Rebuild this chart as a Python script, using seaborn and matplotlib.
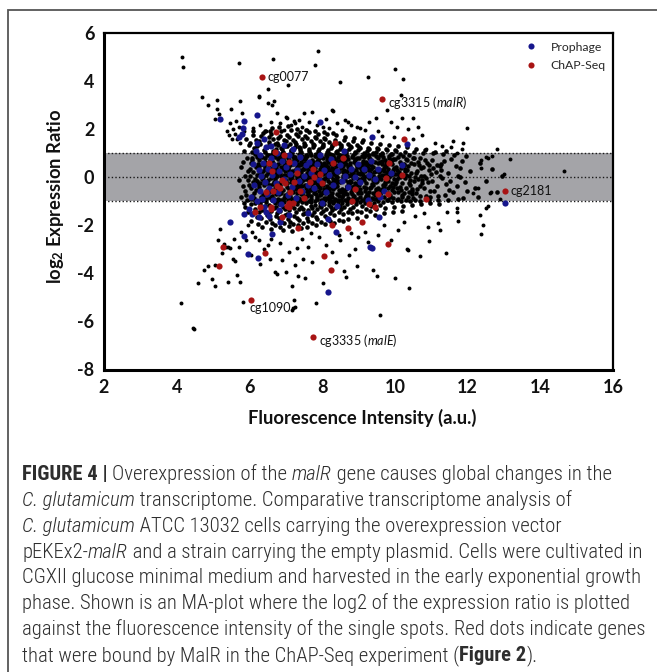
import matplotlib
matplotlib.use("Agg")
import matplotlib.pyplot as plt
import seaborn as sns
import pandas as pd
from matplotlib import font_manager
from matplotlib.lines import Line2D
from matplotlib.patches import Rectangle

# ---------------- data ----------------
x_ticks = [2, 4, 6, 8, 10, 12, 14, 16]
y_ticks = [-8, -6, -4, -2, 0, 2, 4, 6]
band_limits = [-1, 1]
guide_levels = [-1, 0, 1]

black_upper = [(4.14,5.03),(4.16,4.59),(5.71,4.75),(6.66,4.93),(7.89,5.28),(7.79,4.70),(8.49,3.99),(7.07,3.85),
 (6.52,3.68),(6.26,3.40),(6.27,3.35),(5.75,3.18),(5.48,2.84),(6.50,3.11),(6.67,3.20),(6.62,3.03),(6.75,2.70),
 (5.80,2.70),(7.0,2.50),(7.04,2.46),(7.50,2.67),(7.71,2.74),(8.26,2.81),(8.30,2.76),(7.23,2.35),(7.26,2.25),
 (7.58,1.97),(8.03,2.11),(8.63,2.39),(8.70,2.33),(8.95,2.11),(9.27,4.17),(10.0,4.5),(10.23,4.09),(10.17,3.43),
 (9.79,2.81),(9.47,2.46),(10.21,2.46),(10.51,2.46),(10.05,2.11),(10.64,2.11),(11.99,2.05),(9.18,1.97),(9.66,1.72),
 (9.98,1.67),(10.51,1.59),(10.87,1.17),(11.84,1.17),(11.88,1.42),(11.72,1.0),(12.56,0.8),(12.82,1.17),(12.52,0.86),
 (12.66,0.9),(13.17,0.75),(12.38,0.73),(14.66,0.28),(13.0,0.14),(12.38,0.38),(4.69,3.34),(4.87,3.02),(5.12,3.22),
 (5.10,2.85),(5.17,2.64),(5.05,2.42),(5.37,1.93),(5.45,1.77),(5.47,2.27),(5.56,2.0),(5.6,1.82),(5.66,1.6),(5.52,1.62),
 (5.74,1.45),(5.7,2.1),(5.85,1.95),(5.62,2.35),(6.1,2.05),(6.3,2.2),(6.45,1.95),(6.6,2.3),(6.85,2.25),(6.95,1.98),
 (7.15,2.2),(7.35,2.38),(7.45,2.1),(7.65,2.3),(7.85,2.2),(8.1,2.45),(8.2,2.05),(8.4,2.25),(8.55,1.98),(8.8,2.2),
 (9.05,2.05),(9.3,2.3),(9.55,1.95),(9.9,2.3),(10.35,2.0),(10.75,1.75),(11.1,1.45),(11.3,1.3),(11.55,1.25),(11.6,1.5)]

black_lower = [(12.62,-0.64),(12.16,-0.66),(12.29,-0.45),(11.70,-1.26),(11.72,-1.45),(12.34,-1.57),(12.52,-1.26),
 (12.43,-1.98),(12.38,-2.37),(11.40,-3.16),(11.19,-1.89),(11.43,-1.45),(10.95,-2.65),(10.69,-3.26),(10.40,-4.62),
 (10.0,-4.18),(9.59,-5.73),(9.5,-4.1),(9.39,-3.86),(10.37,-3.03),(12.88,-0.90),(12.65,-0.62),(12.57,-1.20),
 (11.73,-1.82),(11.23,-2.17),(10.92,-2.07),(10.34,-2.99),(9.26,-2.69),(9.18,-2.28),(8.90,-2.97),(8.95,-3.70),
 (8.38,-3.52),(8.26,-3.10),(5.83,-5.2),(7.16,-5.52),(7.20,-5.45),(7.25,-5.39),(7.23,-5.11),(7.82,-5.25),(7.16,-4.53),
 (7.53,-4.2),(7.33,-4.10),(8.03,-4.41),(8.66,-4.14),(6.75,-4.04),(6.70,-3.95),(5.42,-4.35),(5.74,-4.35),(5.65,-4.07),
 (7.0,-3.95),(7.25,-3.65),(7.73,-3.54),(7.46,-3.4),(6.56,-3.38),(6.39,-2.99),(6.04,-3.24),(5.55,-3.38),(5.35,-2.90),
 (5.46,-2.94),(5.58,-2.55),(4.12,-5.22),(4.46,-6.26),(4.48,-6.32),(4.59,-4.41),(4.76,-3.86),(4.85,-3.68),(4.96,-4.25),
 (5.06,-4.51),(5.13,-2.61),(5.19,-2.16),(5.31,-2.76),(5.25,-3.16),(5.42,-2.9),(5.05,-3.66),(5.78,-2.28),(5.95,-2.0),
 (6.07,-2.28),(5.6,-3.5),(5.7,-2.9),(5.9,-2.6),(6.25,-2.6),(6.5,-2.8),(6.85,-2.75),(6.3,-3.6),(6.9,-3.45),(7.1,-3.1),
 (7.45,-2.55),(7.6,-2.9),(7.9,-2.5),(8.1,-2.8),(8.5,-2.6),(8.75,-3.25),(9.0,-2.5),(9.55,-2.4),(9.7,-2.0),(10.1,-2.2),
 (10.25,-1.85),(10.55,-1.6),(10.8,-1.5),(8.6,-3.9),(8.8,-2.3),(7.7,-2.3),(6.6,-2.55),(6.15,-2.5),(7.3,-2.95),
 (8.45,-2.4),(9.9,-2.6)]

black_core_a = [(5.78,0.42),(5.81,-0.35),(5.84,1.12),(5.86,-1.05),(5.88,0.05),(5.91,-0.72),(5.93,0.81),(5.95,-1.46),
 (5.96,0.27),(5.97,-0.12),(5.99,1.34),(5.83,0.66),(5.87,-0.55),(5.92,-0.93),(5.98,-0.31),(5.89,-1.25),(5.72,-0.1),
 (5.76,-0.8),(5.9,1.6),
 (6.03,-0.91),(6.17,0.42),(6.09,-0.18),(6.22,0.87),(6.01,0.05),(6.13,-0.63),(6.24,-0.29),(6.06,0.71),(6.19,-0.97),
 (6.11,0.23),(6.04,-0.44),(6.15,0.96),(6.2,0.11),(6.08,-0.76),(6.23,0.55),(6.02,0.34),(6.14,-0.07),(6.18,-0.52),
 (6.07,0.83),(6.12,-0.85),(6.21,-0.16),(6.05,0.61),
 (6.02,1.42),(6.16,-1.33),(6.09,1.76),(6.21,-1.65),(6.05,-1.12),(6.13,1.21),(6.24,-1.94),(6.07,1.05),(6.19,1.58),
 (6.11,-1.48),(6.03,-1.8),(6.22,1.31),(6.15,-1.07),(6.1,1.93),
 (6.27,0.48),(6.41,-0.72),(6.33,0.13),(6.47,-0.25),(6.29,0.91),(6.38,-0.95),(6.44,0.66),(6.26,-0.41),(6.35,-0.06),
 (6.49,0.32),(6.31,-0.83),(6.42,0.79),(6.37,0.02),(6.28,-0.58),(6.46,-0.9),(6.34,0.57),(6.4,-0.33),(6.3,0.19),
 (6.48,0.95),(6.36,-0.67),(6.43,0.38),(6.26,0.74),(6.39,-0.14),(6.32,-0.99),(6.45,0.09),(6.29,-0.22),(6.41,0.5),
 (6.35,0.86),(6.47,-0.54),(6.38,0.27),
 (6.28,1.38),(6.44,-1.21),(6.33,1.72),(6.48,-1.56),(6.3,-1.09),(6.39,1.15),(6.46,-1.87),(6.26,1.51),(6.42,1.04),
 (6.35,-1.36),(6.49,1.27),(6.31,-1.71),(6.37,1.86),(6.45,-1.02),(6.27,-1.45),(6.4,1.62),(6.34,-2.06),(6.43,1.95)]

black_core_b = [(6.52,-0.12),(6.66,0.61),(6.58,-0.87),(6.73,0.24),(6.54,0.93),(6.69,-0.46),(6.61,0.07),(6.51,-0.64),
 (6.64,0.39),(6.74,-0.97),(6.56,0.72),(6.68,-0.19),(6.6,-0.56),(6.71,0.85),(6.53,0.3),(6.63,-0.78),(6.7,0.14),
 (6.57,-0.31),(6.72,-0.68),(6.55,0.5),(6.65,0.98),(6.59,-0.03),(6.67,-0.91),(6.51,0.18),(6.62,0.67),(6.74,0.42),
 (6.56,-0.49),(6.69,0.02),(6.54,-0.82),(6.66,-0.26),(6.6,0.8),(6.72,-0.39),(6.53,0.59),(6.64,-0.6),(6.58,0.35),
 (6.7,-0.08),(6.62,-0.95),(6.57,0.88),
 (6.53,1.47),(6.68,-1.29),(6.59,1.82),(6.72,-1.62),(6.55,-1.16),(6.64,1.12),(6.71,-1.98),(6.51,1.3),(6.66,1.61),
 (6.6,-1.41),(6.74,1.2),(6.57,-1.75),(6.63,2.05),(6.69,-1.07),(6.52,-1.53),(6.7,1.4),(6.58,-2.15),(6.65,1.03),
 (6.56,1.95),(6.73,-1.25),(6.62,-1.88),(6.54,1.68),
 (6.77,0.33),(6.91,-0.52),(6.83,0.81),(6.98,-0.16),(6.79,-0.89),(6.94,0.47),(6.86,0.04),(6.76,-0.37),(6.89,0.96),
 (6.99,-0.73),(6.81,0.21),(6.93,-0.05),(6.85,-0.62),(6.96,0.69),(6.78,0.55),(6.88,-0.94),(6.95,0.12),(6.82,-0.28),
 (6.97,-0.81),(6.8,0.88),(6.9,0.37),(6.84,-0.45),(6.92,-0.99),(6.76,0.08),(6.87,0.64),(6.99,0.26),(6.81,-0.7),
 (6.94,-0.21),(6.79,0.75),(6.91,0.92),(6.85,-0.33),(6.97,0.5),(6.78,-0.57),(6.89,-0.1),(6.83,0.17),(6.95,-0.86),
 (6.87,0.43),(6.82,-0.97),(6.93,0.79),(6.8,-0.24),(6.98,0.61),(6.86,-0.66),
 (6.78,1.36),(6.93,-1.23),(6.84,1.74),(6.97,-1.57),(6.8,-1.11),(6.89,1.18),(6.96,-1.91),(6.76,1.45),(6.91,1.07),
 (6.85,-1.38),(6.99,1.29),(6.82,-1.69),(6.88,1.93),(6.94,-1.04),(6.77,-1.48),(6.95,1.55),(6.83,-2.08),(6.9,1.01),
 (6.81,2.1),(6.98,-1.3),(6.87,-1.82),(6.79,1.63),(6.92,-2.2),(6.86,1.24)]

black_core_c = [(7.02,-0.41),(7.16,0.28),(7.08,-0.93),(7.23,0.76),(7.04,0.1),(7.19,-0.6),(7.11,0.53),(7.01,0.94),
 (7.14,-0.17),(7.24,-0.84),(7.06,0.36),(7.18,0.05),(7.1,-0.5),(7.21,0.66),(7.03,-0.74),(7.13,0.19),(7.2,-0.98),
 (7.07,0.83),(7.22,-0.29),(7.05,0.45),(7.15,-0.07),(7.09,0.71),(7.17,-0.38),(7.01,-0.12),(7.12,0.99),(7.24,0.31),
 (7.06,-0.65),(7.19,0.58),(7.04,-0.23),(7.16,-0.88),(7.1,0.14),(7.22,0.87),(7.03,0.62),(7.14,-0.55),(7.08,0.24),
 (7.2,-0.11),(7.12,-0.79),(7.07,0.41),(7.18,0.91),(7.05,-0.96),(7.23,-0.46),(7.11,-0.02),
 (7.03,1.33),(7.18,-1.19),(7.09,1.69),(7.22,-1.6),(7.05,-1.14),(7.14,1.11),(7.21,-1.94),(7.01,1.5),(7.16,1.02),
 (7.1,-1.35),(7.24,1.26),(7.07,-1.73),(7.13,1.97),(7.19,-1.06),(7.02,-1.51),(7.2,1.58),(7.08,-2.02),(7.15,1.16),
 (7.06,2.14),(7.23,-1.27),(7.12,-1.86),(7.04,1.77),(7.17,-2.24),(7.11,1.41),
 (7.27,0.15),(7.41,-0.71),(7.33,0.58),(7.48,-0.04),(7.29,-0.48),(7.44,0.89),(7.36,-0.26),(7.26,0.68),(7.39,-0.91),
 (7.49,0.4),(7.31,-0.14),(7.43,0.22),(7.35,0.97),(7.46,-0.59),(7.28,-0.83),(7.38,0.5),(7.45,-0.35),(7.32,0.06),
 (7.47,0.77),(7.3,-0.66),(7.4,0.31),(7.34,-0.97),(7.42,-0.19),(7.26,0.85),(7.37,-0.43),(7.49,-0.77),(7.31,0.44),
 (7.44,0.01),(7.29,0.27),(7.41,0.63),(7.35,-0.53),(7.47,-0.09),(7.28,-0.3),(7.39,0.93),(7.33,-0.87),(7.45,0.55),
 (7.37,0.11),(7.32,0.73),(7.43,-0.62),(7.3,-0.02),(7.48,0.36),(7.36,-0.39),
 (7.28,1.39),(7.43,-1.25),(7.34,1.71),(7.47,-1.52),(7.3,-1.1),(7.39,1.14),(7.46,-1.88),(7.26,1.46),(7.41,1.05),
 (7.35,-1.33),(7.49,1.32),(7.32,-1.67),(7.38,1.9),(7.44,-1.03),(7.27,-1.44),(7.45,1.6),(7.33,-2.0),(7.4,1.21),
 (7.31,2.02),(7.48,-1.31),(7.37,-1.79),(7.29,1.8),(7.42,-2.12),(7.36,1.25)]

black_core_d = [(7.52,-0.33),(7.66,0.47),(7.58,-0.78),(7.73,0.12),(7.54,0.83),(7.69,-0.54),(7.61,0.29),(7.51,-0.95),
 (7.64,0.66),(7.74,-0.22),(7.56,0.03),(7.68,0.95),(7.6,-0.61),(7.71,0.38),(7.53,0.59),(7.63,-0.13),(7.7,-0.89),
 (7.57,0.2),(7.72,0.72),(7.55,-0.45),(7.65,0.09),(7.59,0.88),(7.67,-0.31),(7.51,0.34),(7.62,-0.69),(7.74,0.53),
 (7.56,-0.06),(7.69,0.25),(7.54,-0.85),(7.66,-0.42),(7.6,0.61),(7.72,-0.17),(7.53,0.78),(7.64,-0.98),(7.58,0.44),
 (7.7,0.02),(7.62,0.16),(7.57,-0.57),(7.68,-0.76),(7.55,0.92),(7.73,-0.38),(7.61,-0.08),
 (7.53,1.35),(7.68,-1.2),(7.59,1.66),(7.72,-1.55),(7.55,-1.08),(7.64,1.12),(7.71,-1.9),(7.51,1.43),(7.66,1.02),
 (7.6,-1.37),(7.74,1.28),(7.57,-1.7),(7.63,1.88),(7.69,-1.02),(7.52,-1.47),(7.7,1.53),(7.58,-2.05),(7.65,1.17),
 (7.56,1.97),(7.73,-1.26),(7.62,-1.8),(7.54,1.74),
 (7.77,0.52),(7.91,-0.27),(7.83,0.91),(7.98,-0.68),(7.79,0.07),(7.94,0.35),(7.86,-0.88),(7.76,-0.15),(7.89,0.74),
 (7.99,0.19),(7.81,-0.51),(7.93,0.6),(7.85,-0.03),(7.96,-0.93),(7.78,0.28),(7.88,-0.37),(7.95,0.84),(7.82,-0.71),
 (7.97,0.46),(7.8,-0.19),(7.9,0.11),(7.84,0.97),(7.92,-0.56),(7.76,0.64),(7.87,-0.81),(7.99,-0.09),(7.81,0.39),
 (7.94,-0.44),(7.79,-0.99),(7.91,0.81),(7.85,0.24),(7.97,-0.29),(7.78,-0.63),(7.89,0.04),(7.83,-0.4),(7.95,0.56),
 (7.87,0.69),(7.82,0.15),(7.93,-0.75),(7.8,0.89),(7.98,0.31),(7.86,-0.24),
 (7.78,1.34),(7.93,-1.18),(7.84,1.63),(7.97,-1.5),(7.8,-1.13),(7.89,1.09),(7.96,-1.85),(7.76,1.41),(7.91,1.01),
 (7.85,-1.32),(7.99,1.25),(7.82,-1.64),(7.88,1.83),(7.94,-1.05),(7.77,-1.42),(7.95,1.5),(7.83,-1.97),(7.9,1.19),
 (7.81,1.95),(7.98,-1.24),(7.87,-1.74),(7.79,1.7)]

black_core_e = [(8.02,-0.2),(8.16,0.63),(8.08,-0.66),(8.23,0.08),(8.04,0.48),(8.19,-0.91),(8.11,0.26),(8.01,0.82),
 (8.14,-0.42),(8.24,0.55),(8.06,-0.07),(8.18,-0.58),(8.1,0.93),(8.21,-0.25),(8.03,0.16),(8.13,0.71),(8.2,-0.79),
 (8.07,0.37),(8.22,0.99),(8.05,-0.5),(8.15,0.03),(8.09,-0.96),(8.17,0.45),(8.01,-0.32),(8.12,0.12),(8.24,-0.72),
 (8.06,0.6),(8.19,0.3),(8.04,-0.86),(8.16,-0.13),(8.1,0.51),(8.22,-0.45),(8.03,-0.62),(8.14,0.87),(8.08,0.21),
 (8.2,0.67),(8.12,-0.36),(8.07,-0.02),(8.18,0.76),(8.05,0.33),(8.23,-0.97),(8.11,-0.84),
 (8.03,1.31),(8.18,-1.16),(8.09,1.6),(8.22,-1.47),(8.05,-1.1),(8.14,1.07),(8.21,-1.82),(8.01,1.38),(8.16,1.0),
 (8.1,-1.3),(8.24,1.22),(8.07,-1.61),(8.13,1.8),(8.19,-1.04),(8.02,-1.4),(8.2,1.47),(8.08,-1.93),(8.15,1.15),
 (8.06,1.9),(8.23,-1.22),(8.12,-1.7),(8.04,1.66),
 (8.27,0.41),(8.41,-0.35),(8.33,0.79),(8.48,-0.61),(8.29,-0.05),(8.44,0.22),(8.36,-0.9),(8.26,0.6),(8.39,0.07),
 (8.49,0.93),(8.31,-0.47),(8.43,-0.14),(8.35,0.52),(8.46,-0.77),(8.28,0.31),(8.38,-0.27),(8.45,0.68),(8.32,0.14),
 (8.47,-0.52),(8.3,0.86),(8.4,-0.68),(8.34,0.36),(8.42,0.01),(8.26,-0.83),(8.37,0.73),(8.49,-0.2),(8.31,0.18),
 (8.44,-0.95),(8.29,0.95),(8.41,0.46),(8.35,-0.41),(8.47,0.27),(8.28,-0.64),(8.39,-0.1),(8.33,-0.98),(8.45,0.58),
 (8.37,-0.3),(8.32,0.65),(8.43,0.84),(8.3,-0.18),
 (8.28,1.3),(8.43,-1.14),(8.34,1.58),(8.47,-1.45),(8.3,-1.07),(8.39,1.06),(8.46,-1.78),(8.26,1.36),(8.41,1.0),
 (8.35,-1.28),(8.49,1.19),(8.32,-1.58),(8.38,1.75),(8.44,-1.02),(8.27,-1.37),(8.45,1.44),(8.33,-1.88),(8.4,1.12),
 (8.31,1.85),(8.48,-1.2)]

black_core_f = [(8.52,-0.16),(8.66,0.57),(8.58,-0.73),(8.73,0.1),(8.54,0.87),(8.69,-0.4),(8.61,0.32),(8.51,-0.92),
 (8.64,0.7),(8.74,-0.28),(8.56,0.04),(8.68,0.91),(8.6,-0.55),(8.71,0.44),(8.53,0.63),(8.63,-0.09),(8.7,-0.85),
 (8.57,0.23),(8.72,0.77),(8.55,-0.47),(8.65,0.13),(8.59,0.95),(8.67,-0.34),(8.51,0.38),(8.62,-0.65),(8.74,0.49),
 (8.56,-0.03),(8.69,0.28),(8.54,-0.8),(8.66,-0.5),(8.6,0.66),(8.72,-0.21),(8.53,0.8),(8.64,-0.96),(8.58,0.47),
 (8.7,0.06),(8.62,0.19),(8.57,-0.6),(8.68,-0.71),(8.55,0.9),
 (8.53,1.28),(8.68,-1.12),(8.59,1.55),(8.72,-1.42),(8.55,-1.05),(8.64,1.05),(8.71,-1.73),(8.51,1.34),(8.66,1.0),
 (8.6,-1.25),(8.74,1.17),(8.57,-1.54),(8.63,1.7),(8.69,-1.0),(8.52,-1.33),(8.7,1.4),(8.58,-1.83),(8.65,1.1),
 (8.77,0.49),(8.91,-0.24),(8.83,0.85),(8.98,-0.63),(8.79,0.09),(8.94,0.33),(8.86,-0.86),(8.76,-0.13),(8.89,0.71),
 (8.99,0.17),(8.81,-0.48),(8.93,0.58),(8.85,-0.01),(8.96,-0.9),(8.78,0.26),(8.88,-0.35),(8.95,0.8),(8.82,-0.69),
 (8.97,0.43),(8.8,-0.17),(8.9,0.12),(8.84,0.94),(8.92,-0.53),(8.76,0.62),(8.87,-0.78),(8.99,-0.07),(8.81,0.37),
 (8.94,-0.41),(8.79,-0.95),(8.91,0.77),(8.85,0.22),(8.97,-0.27),(8.78,-0.6),(8.89,0.03),(8.83,-0.38),(8.95,0.53),
 (8.87,0.66),(8.82,0.15),
 (8.78,1.25),(8.93,-1.1),(8.84,1.5),(8.97,-1.38),(8.8,-1.03),(8.89,1.04),(8.96,-1.68),(8.76,1.3),(8.91,1.0),
 (8.85,-1.22),(8.99,1.14),(8.82,-1.5),(8.88,1.64),(8.94,-0.99),(8.77,-1.3),(8.95,1.36)]

black_core_g = [(9.02,-0.18),(9.16,0.6),(9.08,-0.64),(9.23,0.07),(9.04,0.45),(9.19,-0.87),(9.11,0.24),(9.01,0.79),
 (9.14,-0.4),(9.24,0.52),(9.06,-0.06),(9.18,-0.55),(9.1,0.9),(9.21,-0.23),(9.03,0.14),(9.13,0.68),(9.2,-0.76),
 (9.07,0.35),(9.22,0.95),(9.05,-0.48),(9.15,0.02),(9.09,-0.92),(9.17,0.42),(9.01,-0.3),(9.12,0.11),(9.24,-0.69),
 (9.06,0.57),(9.19,0.28),(9.04,-0.82),(9.16,-0.12),(9.1,0.49),(9.22,-0.43),(9.03,-0.6),(9.14,0.84),(9.08,0.19),
 (9.2,0.64),
 (9.03,1.22),(9.18,-1.08),(9.09,1.46),(9.22,-1.33),(9.05,-1.01),(9.14,1.03),(9.21,-1.62),(9.01,1.27),(9.16,0.99),
 (9.1,-1.2),(9.24,1.11),(9.07,-1.45),(9.13,1.58),(9.19,-0.98),
 (9.27,0.38),(9.41,-0.33),(9.33,0.75),(9.48,-0.58),(9.29,-0.04),(9.44,0.21),(9.36,-0.85),(9.26,0.57),(9.39,0.06),
 (9.49,0.88),(9.31,-0.45),(9.43,-0.13),(9.35,0.5),(9.46,-0.73),(9.28,0.29),(9.38,-0.26),(9.45,0.65),(9.32,0.13),
 (9.47,-0.5),(9.3,0.82),(9.4,-0.65),(9.34,0.34),(9.42,0.0),(9.26,-0.79),(9.37,0.7),(9.49,-0.19),(9.31,0.17),
 (9.44,-0.91),(9.29,0.92),(9.41,0.44),(9.35,-0.39),(9.47,0.26),(9.28,-0.61),(9.39,-0.09),
 (9.28,1.2),(9.43,-1.06),(9.34,1.42),(9.47,-1.3),(9.3,-0.99),(9.39,1.02),(9.46,-1.56),(9.26,1.24),(9.41,0.98),
 (9.35,-1.17),(9.49,1.08),(9.32,-1.41)]

black_core_h = [(9.52,-0.15),(9.66,0.54),(9.58,-0.7),(9.73,0.09),(9.54,0.83),(9.69,-0.38),(9.61,0.3),(9.51,-0.88),
 (9.64,0.67),(9.74,-0.26),(9.56,0.04),(9.68,0.87),(9.6,-0.52),(9.71,0.41),(9.53,0.6),(9.63,-0.08),(9.7,-0.81),
 (9.57,0.22),(9.72,0.74),(9.55,-0.44),(9.65,0.12),(9.59,0.93),(9.67,-0.32),(9.51,0.36),(9.62,-0.62),(9.74,0.47),
 (9.56,-0.02),(9.69,0.26),(9.54,-0.76),(9.66,-0.47),(9.6,0.63),(9.72,-0.19),
 (9.53,1.18),(9.68,-1.04),(9.59,1.38),(9.72,-1.26),(9.55,-0.97),(9.64,1.0),(9.71,-1.5),(9.51,1.22),(9.66,0.97),
 (9.6,-1.14),
 (9.77,0.46),(9.91,-0.22),(9.83,0.8),(9.98,-0.6),(9.79,0.08),(9.94,0.31),(9.86,-0.82),(9.76,-0.12),(9.89,0.67),
 (9.99,0.16),(9.81,-0.46),(9.93,0.55),(9.85,0.0),(9.96,-0.87),(9.78,0.24),(9.88,-0.34),(9.95,0.76),(9.82,-0.66),
 (9.97,0.4),(9.8,-0.16),(9.9,0.11),(9.84,0.9),(9.92,-0.51),(9.76,0.59),(9.87,-0.75),(9.99,-0.06),(9.81,0.35),
 (9.94,-0.39),(9.79,-0.92),(9.91,0.73),
 (9.78,1.15),(9.93,-1.02),(9.84,1.34),(9.97,-1.22),(9.8,-0.96),(9.89,0.98),(9.96,-1.45),(9.76,1.19),(9.91,0.96),
 (10.02,-0.17),(10.16,0.57),(10.08,-0.61),(10.23,0.06),(10.04,0.43),(10.19,-0.83),(10.11,0.23),(10.01,0.76),
 (10.14,-0.38),(10.24,0.5),(10.06,-0.05),(10.18,-0.52),(10.1,0.86),(10.21,-0.22),(10.03,0.13),(10.13,0.65),
 (10.2,-0.72),(10.07,0.33),(10.22,0.9),(10.05,-0.46),(10.15,0.01),(10.09,-0.88),(10.17,0.4),(10.01,-0.29),
 (10.12,0.1),(10.24,-0.66),
 (10.03,1.12),(10.18,-1.0),(10.09,1.3),(10.22,-1.18),(10.05,-0.95),(10.14,0.97),(10.21,-1.38),(10.01,1.15)]

black_core_i = [(10.27,0.36),(10.41,-0.31),(10.33,0.71),(10.48,-0.55),(10.29,-0.03),(10.44,0.19),(10.36,-0.8),
 (10.26,0.54),(10.39,0.05),(10.49,0.83),(10.31,-0.43),(10.43,-0.12),(10.35,0.47),(10.46,-0.69),(10.28,0.27),
 (10.38,-0.24),(10.45,0.62),(10.32,0.12),(10.47,-0.47),(10.3,0.78),(10.4,-0.61),(10.34,0.32),
 (10.28,1.08),(10.43,-0.98),(10.34,1.25),(10.47,-1.14),(10.3,-0.93),(10.39,0.95),
 (10.52,-0.14),(10.66,0.51),(10.58,-0.66),(10.73,0.08),(10.54,0.79),(10.69,-0.36),(10.61,0.28),(10.51,-0.84),
 (10.64,0.63),(10.74,-0.24),(10.56,0.03),(10.68,0.82),(10.6,-0.49),(10.71,0.39),(10.53,0.57),(10.63,-0.07),
 (10.7,-0.77),(10.57,0.2),(10.53,1.05),(10.68,-0.97),(10.59,1.2),(10.72,-1.1),(10.55,-0.92),
 (10.77,0.43),(10.91,-0.2),(10.83,0.74),(10.98,-0.57),(10.79,0.07),(10.94,0.29),(10.86,-0.78),(10.76,-0.11),
 (10.89,0.62),(10.99,0.15),(10.81,-0.44),(10.93,0.51),(10.85,-0.01),(10.96,-0.83),(10.78,1.02),(10.93,-0.96),
 (10.84,1.15),(10.97,-1.06),
 (11.03,-0.16),(11.17,0.52),(11.09,-0.58),(11.23,0.05),(11.05,0.41),(11.19,-0.79),(11.12,0.22),(11.01,0.72),
 (11.15,-0.36),(11.24,0.47),(11.04,1.0),(11.2,-0.95),(11.1,1.08),(11.22,-1.12),
 (11.28,0.33),(11.42,-0.29),(11.34,0.68),(11.48,-0.52),(11.3,-0.03),(11.45,0.18),(11.37,-0.75),(11.27,0.55),
 (11.33,0.98),(11.46,-0.96),(11.4,1.1),
 (11.53,-0.13),(11.67,0.48),(11.59,-0.62),(11.73,0.07),(11.55,0.75),(11.7,-0.34),(11.62,0.95),(11.74,-0.9),
 (11.78,0.4),(11.92,-0.18),(11.84,0.7),(11.98,-0.55),(11.8,0.03),(11.95,0.9),(11.88,-0.85),
 (12.08,0.25),(12.2,-0.42),(12.35,0.6),(12.5,-0.15),(12.68,0.35),(12.82,-0.6),(12.95,0.05),(12.3,-0.8)]

prophage_pts = [(5.20,2.42),(5.86,2.34),(6.20,2.62),(5.81,2.08),(5.80,1.82),(5.70,1.70),(7.95,2.30),(9.36,1.70),
 (10.34,1.38),(5.47,-1.85),(5.84,-1.52),(5.84,-2.43),(5.97,-3.19),(6.23,-3.35),(6.61,-2.37),(6.07,-1.52),
 (6.53,-1.59),(6.26,-1.66),(6.85,-1.86),(8.17,-4.76),(8.38,-2.28),(8.17,-1.72),(9.32,-2.89),(9.37,-2.93),
 (9.57,-1.64),(13.03,-1.08),(7.1,-1.55),(6.0,-1.3),(6.4,-1.25),
 (6.05,-0.8),(6.1,0.55),(6.12,-0.3),(6.18,1.1),(6.22,-1.0),(6.25,0.3),(6.28,-0.55),(6.3,0.95),(6.33,0.05),
 (6.35,-0.9),(6.38,0.6),(6.42,-0.2),(6.45,1.25),(6.48,-0.7),(6.5,0.35),(6.55,-0.45),(6.58,0.8),(6.62,0.1),
 (6.65,-0.95),(6.68,0.5),(6.72,-0.25),(6.75,1.0),(6.78,-0.6),(6.82,0.25),(6.88,-1.1),(6.9,0.7),(6.95,-0.05),
 (7.0,0.45),(7.05,-0.75),(7.1,0.95),(7.12,0.15),(7.18,-0.4),(7.22,0.6),(7.28,-0.85),(7.3,0.3),(7.35,-0.15),
 (7.4,0.85),(7.45,-0.55),(7.5,0.05),(7.55,0.5),(7.6,-0.3),(7.65,0.65),(7.7,0.2),(7.78,-0.45),(7.85,0.55),
 (7.9,-0.1),(7.95,0.95),(8.05,0.3),(8.1,-0.6),(8.2,0.1),(8.25,0.75),(8.3,-0.3),(8.4,0.25),(8.5,0.5),(8.55,-0.15),
 (8.62,0.05),(8.7,-0.4),(8.8,0.35),(8.9,0.0),(9.0,0.55),(9.05,-0.2),(9.15,0.35),(9.3,0.1),(9.35,0.7),(9.45,-0.05),
 (9.55,0.35),(9.7,-0.55),(9.9,0.2),(10.2,0.5),(8.6,1.1),(7.2,1.2),(6.6,1.3),(6.95,1.35),(6.2,1.45),(6.4,1.6),
 (6.45,-1.45),(6.8,-1.35),(7.6,-1.5),(8.0,-1.05),(8.4,-1.2),(9.25,-0.95),(9.6,-0.8)]

chapseq_pts = [(6.35,4.17),(9.65,3.28),(13.03,-0.57),(6.04,-5.12),(7.75,-6.63),
 (6.74,1.89),(8.34,1.45),(10.26,1.61),(5.26,-2.91),(5.16,-3.68),(6.15,-1.45),(6.43,-3.16),(6.59,-1.24),
 (6.90,-1.66),(7.34,-2.12),(8.05,-3.28),(8.24,-3.86),(8.26,-1.98),(8.72,-2.12),(9.09,-1.87),(9.80,-2.79),
 (10.86,-0.90),(8.82,-0.97),(9.45,-1.22),(7.02,-1.20),(7.08,-1.06),
 (6.96,0.92),(7.08,0.66),(6.62,0.28),(7.22,-0.18),(6.99,-0.23),(6.76,-0.34),(6.64,-0.55),(7.74,0.37),(7.77,0.0),
 (7.95,0.14),(8.0,-0.25),(7.66,-0.18),(7.11,-0.62),(8.58,0.79),(9.84,0.59),(9.76,-0.04),(10.20,0.10),(9.53,-0.69),
 (9.82,-0.69),(6.85,-0.45),(6.9,-0.1),(7.4,-0.55),(6.45,-0.6),(6.55,0.6),(6.7,1.05),(7.3,0.2),(7.5,-0.85),(8.3,0.6),
 (8.9,-0.5),(9.3,-1.1),(6.3,-1.25),(6.6,-1.3),(7.1,-1.25),(7.2,-1.05)]

label_names = ["cg0077", "cg3315 ($\\it{malR}$)", "cg2181", "cg1090", "cg3335 ($\\it{malE}$)"]
label_points = [0, 1, 2, 3, 4]           # index into chapseq_pts
legend_labels = ["Prophage", "ChAP-Seq"]

x_label = "Fluorescence Intensity (a.u.)"
y_label = "log$_\\mathbf{2}$ Expression Ratio"

caption_lines = [
    [("FIGURE 4 | ", "b"), ("Overexpression of the ", "n"), ("malR", "i"), (" gene causes global changes in the", "n")],
    [("C. glutamicum", "i"), (" transcriptome. Comparative transcriptome analysis of", "n")],
    [("C. glutamicum", "i"), (" ATCC 13032 cells carrying the overexpression vector", "n")],
    [("pEKEx2-", "n"), ("malR", "i"), (" and a strain carrying the empty plasmid. Cells were cultivated in", "n")],
    [("CGXII glucose minimal medium and harvested in the early exponential growth", "n")],
    [("phase. Shown is an MA-plot where the log2 of the expression ratio is plotted", "n")],
    [("against the fluorescence intensity of the single spots. Red dots indicate genes", "n")],
    [("that were bound by MalR in the ChAP-Seq experiment (", "n"), ("Figure 2", "b"), (").", "n")],
]

# ---------------- build tables ----------------
def frame(pts):
    return pd.DataFrame(pts, columns=["x", "y"])

outer_df = pd.concat([frame(black_upper), frame(black_lower)], ignore_index=True)
core_df = pd.concat([frame(p) for p in (black_core_a, black_core_b, black_core_c, black_core_d, black_core_e,
                                         black_core_f, black_core_g, black_core_h, black_core_i)],
                    ignore_index=True)
blue_df = frame(prophage_pts)
red_df = frame(chapseq_pts)

# ---------------- style ----------------
sns.set_theme(style="white")
avail = {f.name for f in font_manager.fontManager.ttflist}
main_font = "Lato" if "Lato" in avail else "DejaVu Sans"
cap_font = "Liberation Sans"
for cand in ("Roboto Condensed", "Liberation Sans Narrow", "Open Sans Condensed", "Roboto"):
    if cand in avail:
        cap_font = cand
        break
plt.rcParams["font.family"] = [main_font, "DejaVu Sans"]
plt.rcParams["axes.unicode_minus"] = False
plt.rcParams["mathtext.fontset"] = "custom"
plt.rcParams["mathtext.rm"] = main_font
plt.rcParams["mathtext.it"] = main_font + ":italic"
plt.rcParams["mathtext.bf"] = main_font + ":bold"

BLUE = "#16168c"
RED = "#a81414"
BAND = "#a4a4a8"

W, H = 657, 672
fig = plt.figure(figsize=(W / 100, H / 100), dpi=100)
fig.patch.set_facecolor("white")
ax = fig.add_axes([104 / W, 1 - 369.5 / H, 509 / W, 336.1 / H])

ax.axhspan(band_limits[0], band_limits[1], color=BAND, lw=0, zorder=0)
for lv in guide_levels:
    ax.axhline(lv, color="#1a1a1a", lw=1.0, ls=(0, (1, 1.6)), zorder=1)

sns.scatterplot(data=outer_df, x="x", y="y", color="black", s=8, linewidth=0, ax=ax, zorder=3, legend=False)
sns.scatterplot(data=core_df, x="x", y="y", color="black", s=11, linewidth=0, ax=ax, zorder=3, legend=False)
sns.scatterplot(data=blue_df, x="x", y="y", color=BLUE, s=20, linewidth=0, ax=ax, zorder=4, legend=False)
sns.scatterplot(data=red_df, x="x", y="y", color=RED, s=20, linewidth=0, ax=ax, zorder=5, legend=False)

ax.set_xlim(x_ticks[0], x_ticks[-1])
ax.set_ylim(y_ticks[0], y_ticks[-1])
ax.set_xticks(x_ticks)
ax.set_yticks(y_ticks)
ax.set_xticklabels([str(v) for v in x_ticks])
ax.set_yticklabels([str(v) for v in y_ticks])
ax.tick_params(axis="both", which="major", direction="out", length=5, width=2, labelsize=13,
               pad=2, color="black", labelcolor="#111111")
for lab in ax.get_xticklabels() + ax.get_yticklabels():
    lab.set_fontweight("bold")
for side in ("left", "bottom"):
    ax.spines[side].set_linewidth(2.2)
for side in ("top", "right"):
    ax.spines[side].set_linewidth(1.6)
for sp in ax.spines.values():
    sp.set_color("black")
    sp.set_visible(True)

ax.set_xlabel(x_label, fontsize=13.2, fontweight="bold", color="#111111")
ax.set_ylabel(y_label, fontsize=13.2, fontweight="bold", color="#111111")
ax.xaxis.label.set_va("center")
ax.yaxis.label.set_va("center")
ax.xaxis.set_label_coords(0.507, -(418 - 369.5) / 336.1)
ax.yaxis.set_label_coords(-(104 - 55) / 509, (369.5 - 196) / 336.1)

# annotations
offsets = [(5, 0), (6, -4), (5, 0), (-1, -8), (6, -4)]
for name, idx, off in zip(label_names, label_points, offsets):
    px, py = chapseq_pts[idx]
    ax.annotate(name, xy=(px, py), xytext=off, textcoords="offset pixels", ha="left", va="center",
                fontsize=9, color="#111111", zorder=6)

# legend
handles = [Line2D([], [], ls="", marker="o", markersize=4.4, color=BLUE, markeredgewidth=0),
           Line2D([], [], ls="", marker="o", markersize=4.4, color=RED, markeredgewidth=0)]
ax.legend(handles, legend_labels, loc="upper right", bbox_to_anchor=(1.0, 0.997), frameon=False,
          fontsize=8.8, handletextpad=1.0, labelspacing=0.6, borderaxespad=0.2, handlelength=1.2)

# outer frame of the figure panel
fig.patches.append(Rectangle((8 / W, -0.1), 1.2, 1.1 - 10 / H, transform=fig.transFigure,
                             fill=False, edgecolor="#555555", lw=1.3))

# caption
renderer = fig.canvas.get_renderer()
styles = {"n": {"fontweight": "light"}, "i": {"fontstyle": "italic", "fontweight": "light"},
          "b": {"fontweight": "bold"}}

def run_width(txt, style, size):
    t1 = fig.text(0, 0, "|" + txt + "|", fontsize=size, family=cap_font, **styles[style])
    t2 = fig.text(0, 0, "||", fontsize=size, family=cap_font, **styles[style])
    w = t1.get_window_extent(renderer).width - t2.get_window_extent(renderer).width
    t1.remove(); t2.remove()
    return w

ref_w = run_width(caption_lines[4][0][0], "n", 10)
cap_size = 10 * 618 / ref_w
cap_color = "#2e2e2e"
baselines = [480, 506, 532, 558, 583, 609, 635, 661]
for runs, base in zip(caption_lines, baselines):
    xpos = 22
    for txt, st in runs:
        fig.text(xpos / W, 1 - base / H, txt, fontsize=cap_size, family=cap_font, color=cap_color,
                 ha="left", va="baseline", **styles[st])
        xpos += run_width(txt, st, cap_size)

fig.savefig("out.png", dpi=100, facecolor="white")
